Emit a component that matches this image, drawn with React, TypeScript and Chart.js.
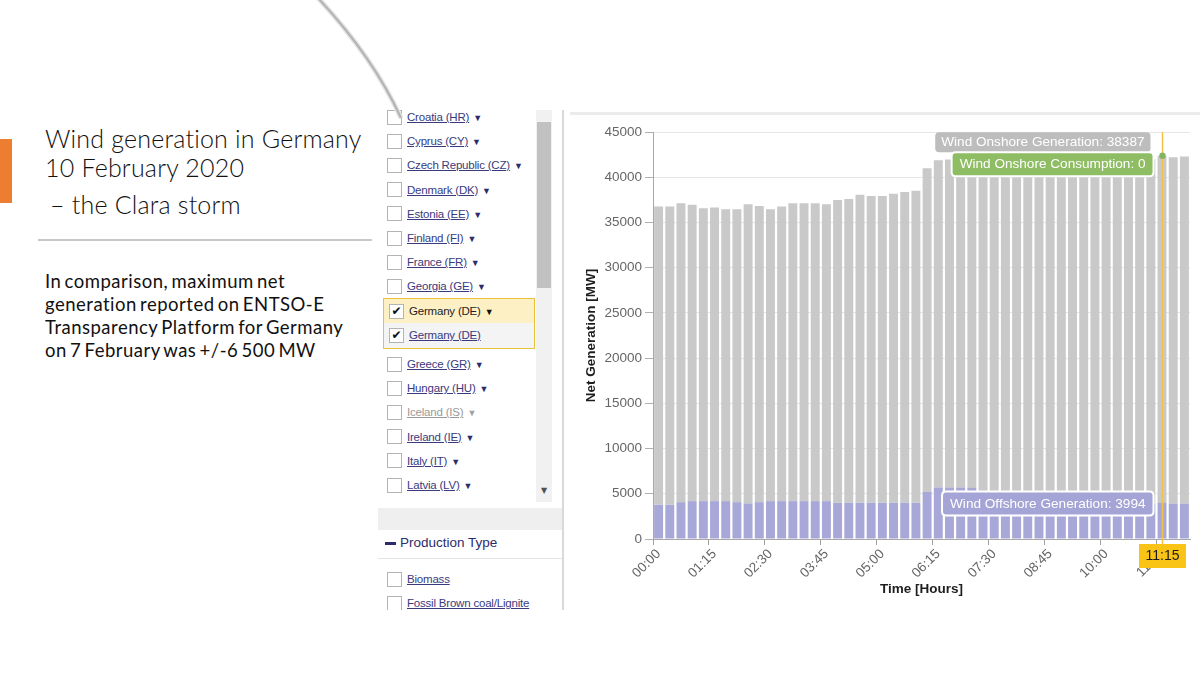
import React, { useEffect, useRef } from "react";
import { Chart, registerables } from "chart.js";

Chart.register(...registerables);

// ---------------- DATA ----------------
const timeLabels = [
  "00:00", "00:15", "00:30", "00:45", "01:00", "01:15", "01:30", "01:45",
  "02:00", "02:15", "02:30", "02:45", "03:00", "03:15", "03:30", "03:45",
  "04:00", "04:15", "04:30", "04:45", "05:00", "05:15", "05:30", "05:45",
  "06:00", "06:15", "06:30", "06:45", "07:00", "07:15", "07:30", "07:45",
  "08:00", "08:15", "08:30", "08:45", "09:00", "09:15", "09:30", "09:45",
  "10:00", "10:15", "10:30", "10:45", "11:00", "11:15", "11:30", "11:45",
];

const offshoreGeneration = [
  3780, 3780, 4070, 4190, 4190, 4190, 4190, 4070,
  3930, 4070, 4190, 4190, 4190, 4190, 4190, 4190,
  4000, 4000, 4000, 4000, 4000, 4000, 4000, 4000,
  5230, 5700, 5700, 5700, 5650, 3950, 3950, 3950,
  3950, 3950, 3950, 3950, 3950, 3950, 3950, 3950,
  3950, 3950, 3900, 3900, 3870, 3994, 3900, 3900,
];

const onshoreGeneration = [
  32970, 32970, 33050, 32780, 32380, 32450, 32270, 32390,
  33080, 32760, 32270, 32560, 32930, 32930, 32930, 32820,
  33480, 33600, 34070, 33920, 33920, 34180, 34360, 34510,
  35770, 36190, 36260, 36300, 36400, 38150, 38200, 38050,
  38150, 38250, 38200, 38100, 38150, 38250, 38300, 38200,
  38150, 38250, 38200, 38150, 38130, 38387, 38320, 38400,
];

const onshoreConsumption = [
  0, 0, 0, 0, 0, 0, 0, 0, 0, 0, 0, 0, 0, 0, 0, 0,
  0, 0, 0, 0, 0, 0, 0, 0, 0, 0, 0, 0, 0, 0, 0, 0,
  0, 0, 0, 0, 0, 0, 0, 0, 0, 0, 0, 0, 0, 0, 0, 0,
];

const yAxisMax = 45000;
const yAxisStep = 5000;
const highlightIndex = 45;

const countries = [
  "Croatia (HR)", "Cyprus (CY)", "Czech Republic (CZ)", "Denmark (DK)",
  "Estonia (EE)", "Finland (FI)", "France (FR)", "Georgia (GE)",
];
const countriesAfter = ["Greece (GR)", "Hungary (HU)", "Iceland (IS)", "Ireland (IE)", "Italy (IT)", "Latvia (LV)"];
const productionTypes = ["Biomass", "Fossil Brown coal/Lignite"];

const FONT = '"Liberation Sans", Arial, Helvetica, sans-serif';
const SLIDE_FONT = 'Lato, "Open Sans", sans-serif';

// ---------------- helpers ----------------
function roundRectPath(ctx: CanvasRenderingContext2D, x: number, y: number, w: number, h: number, r: number) {
  ctx.beginPath();
  ctx.moveTo(x + r, y);
  ctx.lineTo(x + w - r, y);
  ctx.quadraticCurveTo(x + w, y, x + w, y + r);
  ctx.lineTo(x + w, y + h - r);
  ctx.quadraticCurveTo(x + w, y + h, x + w - r, y + h);
  ctx.lineTo(x + r, y + h);
  ctx.quadraticCurveTo(x, y + h, x, y + h - r);
  ctx.lineTo(x, y + r);
  ctx.quadraticCurveTo(x, y, x + r, y);
  ctx.closePath();
}

function drawLabelBox(
  ctx: CanvasRenderingContext2D,
  text: string,
  right: number,
  cy: number,
  h: number,
  fill: string,
  border: string | null,
  padX: number
) {
  ctx.font = `13.6px ${FONT}`;
  const tw = ctx.measureText(text).width;
  const w = tw + padX * 2;
  const x = right - w;
  const y = cy - h / 2;
  roundRectPath(ctx, x, y, w, h, 4);
  ctx.fillStyle = fill;
  ctx.fill();
  if (border) {
    ctx.lineWidth = 2;
    ctx.strokeStyle = border;
    ctx.stroke();
  }
  ctx.fillStyle = "#ffffff";
  ctx.textAlign = "left";
  ctx.textBaseline = "middle";
  ctx.fillText(text, x + padX, cy + 0.5);
}

const crosshairPlugin = {
  id: "crosshairOverlay",
  afterDraw(chart: any) {
    const { ctx, chartArea, scales } = chart;
    const x = scales.x;
    const y = scales.y;
    const i = highlightIndex;
    const px = Math.round(x.getPixelForValue(i)) + 0.5;
    const total = offshoreGeneration[i] + onshoreGeneration[i] + onshoreConsumption[i];
    const topY = y.getPixelForValue(total);
    const offY = y.getPixelForValue(offshoreGeneration[i]);
    ctx.save();

    ctx.strokeStyle = "#f3c246";
    ctx.lineWidth = 1.5;
    ctx.beginPath();
    ctx.moveTo(px, chartArea.top);
    ctx.lineTo(px, chartArea.bottom + 6);
    ctx.stroke();

    ctx.beginPath();
    ctx.arc(px, topY, 3.2, 0, Math.PI * 2);
    ctx.fillStyle = "#86b45e";
    ctx.fill();

    drawLabelBox(ctx, `Wind Onshore Generation: ${onshoreGeneration[i]}`, px - 12, topY - 13.5, 20, "#bdbdbd", null, 6);
    drawLabelBox(ctx, `Wind Onshore Consumption: ${onshoreConsumption[i]}`, px - 9, topY + 8.5, 24, "#8fbd64", "#ffffff", 8);
    drawLabelBox(ctx, `Wind Offshore Generation: ${offshoreGeneration[i]}`, px - 9, offY + 0.5, 24, "#a4a4d6", "#ffffff", 8);

    const bw = 47;
    const bh = 24;
    const bx = px - bw / 2;
    const by = chartArea.bottom + 5;
    ctx.fillStyle = "#f9c416";
    ctx.fillRect(bx, by, bw, bh);
    ctx.fillStyle = "#1a1a1a";
    ctx.font = `14px ${FONT}`;
    ctx.textAlign = "center";
    ctx.textBaseline = "middle";
    ctx.fillText(timeLabels[i], px, by + bh / 2 + 0.5);
    ctx.restore();
  },
};

function WindChart() {
  const ref = useRef<HTMLCanvasElement | null>(null);
  useEffect(() => {
    if (!ref.current) return;
    const chart = new Chart(ref.current, {
      type: "bar",
      data: {
        labels: timeLabels,
        datasets: [
          {
            label: "Wind Offshore Generation",
            data: offshoreGeneration,
            backgroundColor: "#a8a8d8",
            barPercentage: 0.8,
            categoryPercentage: 1,
          },
          {
            label: "Wind Onshore Generation",
            data: onshoreGeneration,
            backgroundColor: "#c9c9c9",
            barPercentage: 0.8,
            categoryPercentage: 1,
          },
          {
            label: "Wind Onshore Consumption",
            data: onshoreConsumption,
            backgroundColor: "#8fbd64",
            barPercentage: 0.8,
            categoryPercentage: 1,
          },
        ],
      },
      options: {
        responsive: false,
        animation: false,
        layout: { padding: { top: 14, right: 10, left: 0, bottom: 0 } },
        plugins: {
          legend: { display: false },
          tooltip: { enabled: false },
        },
        scales: {
          x: {
            stacked: true,
            grid: {
              drawOnChartArea: false,
              tickLength: 6,
              tickColor: (c: any) => (c.index % 5 === 0 ? "#a0a0a0" : "rgba(0,0,0,0)"),
            },
            border: { color: "#a8a8a8", width: 1 },
            ticks: {
              autoSkip: false,
              maxRotation: 45,
              minRotation: 45,
              color: "#666666",
              padding: 1,
              font: { family: FONT, size: 13.5 },
              callback: (_v: any, idx: number) => (idx % 5 === 0 ? timeLabels[idx] : ""),
            },
            title: {
              display: true,
              text: "Time [Hours]",
              color: "#1e1e1e",
              font: { family: FONT, size: 13.5, weight: "bold" },
              padding: { top: 0, bottom: 11 },
            },
            afterFit: (s: any) => {
              s.height = 69;
            },
          },
          y: {
            stacked: true,
            min: 0,
            max: yAxisMax,
            ticks: {
              stepSize: yAxisStep,
              color: "#666666",
              padding: 3,
              font: { family: FONT, size: 13.5 },
              callback: (v: any) => String(v),
            },
            grid: { color: "#e6e6e6", tickColor: "#b0b0b0", tickLength: 8 },
            border: { color: "#a8a8a8", width: 1 },
            title: {
              display: true,
              text: "Net Generation [MW]",
              color: "#1e1e1e",
              font: { family: FONT, size: 13.5, weight: "bold" },
              padding: { top: 13, bottom: 0 },
            },
            afterFit: (s: any) => {
              s.width = 83;
            },
          },
        },
      } as any,
      plugins: [crosshairPlugin],
    });
    return () => chart.destroy();
  }, []);
  return (
    <canvas
      ref={ref}
      width={630}
      height={490}
      style={{ position: "absolute", left: 570, top: 118, width: 630, height: 490 }}
    />
  );
}

function Checkbox({ left, top, checked }: { left: number; top: number; checked?: boolean }) {
  return (
    <div
      style={{
        position: "absolute",
        left,
        top,
        width: 15,
        height: 15,
        border: "1px solid #b4b4b4",
        background: "#fff",
        boxSizing: "border-box",
        fontSize: 12,
        lineHeight: "13px",
        textAlign: "center",
        color: "#111",
        fontFamily: "DejaVu Sans, sans-serif",
      }}
    >
      {checked ? "✔" : ""}
    </div>
  );
}

function ListRow({
  top,
  text,
  arrow = true,
  grey = false,
  plain = false,
  checked = false,
  cbLeft = 387,
  textLeft = 407,
}: {
  top: number;
  text: string;
  arrow?: boolean;
  grey?: boolean;
  plain?: boolean;
  checked?: boolean;
  cbLeft?: number;
  textLeft?: number;
}) {
  const color = plain ? "#1e1e1e" : grey ? "#9a9a9a" : "#3a3a7e";
  return (
    <>
      <Checkbox left={cbLeft} top={top - 7.5} checked={checked} />
      <div
        style={{
          position: "absolute",
          left: textLeft,
          top: top - 8,
          height: 16,
          lineHeight: "16px",
          fontFamily: FONT,
          fontSize: 11.5,
          letterSpacing: -0.2,
          color,
          whiteSpace: "nowrap",
        }}
      >
        <span style={{ textDecoration: plain ? "none" : "underline" }}>{text}</span>
        {arrow ? (
          <span style={{ fontSize: 9, marginLeft: 4, color: plain ? "#111" : grey ? "#a0a0a0" : "#2b2b6e" }}>▼</span>
        ) : null}
      </div>
    </>
  );
}

function LeftPanel() {
  return (
    <div style={{ position: "absolute", left: 0, top: 0, width: 1200, height: 673 }}>
      <div style={{ position: "absolute", left: 378, top: 110, width: 184, height: 500, overflow: "hidden" }}>
        <div style={{ position: "absolute", left: -378, top: -110, width: 1200, height: 700 }}>
          {countries.map((c, k) => (
            <ListRow key={c} top={117 + k * 24.2} text={c} />
          ))}
          <div
            style={{
              position: "absolute",
              left: 383,
              top: 298,
              width: 152,
              height: 51,
              border: "1.5px solid #e9c23a",
              boxSizing: "border-box",
              background: "#f4f4f4",
            }}
          >
            <div style={{ position: "absolute", left: 0, top: 0, right: 0, height: 24, background: "#fdf0c4" }} />
          </div>
          <ListRow top={311} text="Germany (DE)" plain checked cbLeft={389} textLeft={409} />
          <ListRow top={335} text="Germany (DE)" arrow={false} checked cbLeft={389} textLeft={409} />
          {countriesAfter.map((c, k) => (
            <ListRow key={c} top={364 + k * 24.2} text={c} grey={c.startsWith("Iceland")} />
          ))}
          <div style={{ position: "absolute", left: 536, top: 110, width: 16, height: 392, background: "#f1f1f1" }} />
          <div style={{ position: "absolute", left: 537, top: 122, width: 14, height: 166, background: "#c1c1c1" }} />
          <div
            style={{
              position: "absolute",
              left: 536,
              top: 484,
              width: 16,
              height: 14,
              fontSize: 8,
              lineHeight: "14px",
              textAlign: "center",
              color: "#505050",
              fontFamily: "DejaVu Sans, sans-serif",
            }}
          >
            ▼
          </div>
          <div style={{ position: "absolute", left: 378, top: 508, width: 184, height: 22, background: "#efefef" }} />
          <div style={{ position: "absolute", left: 385, top: 542, width: 11, height: 2.5, background: "#2c2c6c" }} />
          <div
            style={{
              position: "absolute",
              left: 400,
              top: 534,
              lineHeight: "18px",
              fontFamily: FONT,
              fontSize: 13.5,
              color: "#2c2c6c",
              whiteSpace: "nowrap",
            }}
          >
            Production Type
          </div>
          <div style={{ position: "absolute", left: 378, top: 558, width: 184, height: 1, background: "#e4e4e4" }} />
          {productionTypes.map((p, k) => (
            <ListRow key={p} top={579 + k * 24.2} text={p} arrow={false} />
          ))}
        </div>
      </div>
      <div style={{ position: "absolute", left: 562, top: 110, width: 2, height: 500, background: "#d9d9d9" }} />
      <div style={{ position: "absolute", left: 570, top: 112, width: 630, height: 3, background: "#ebebeb" }} />
    </div>
  );
}

function SlideText() {
  const titleStyle: React.CSSProperties = {
    position: "absolute",
    fontFamily: SLIDE_FONT,
    fontWeight: 300,
    fontSize: 25,
    letterSpacing: 0.2,
    lineHeight: "28px",
    color: "#111",
    whiteSpace: "nowrap",
  };
  const bodyStyle: React.CSSProperties = {
    position: "absolute",
    left: 45,
    fontFamily: SLIDE_FONT,
    fontWeight: 400,
    fontSize: 18.5,
    letterSpacing: 0.5,
    lineHeight: "20px",
    color: "#111",
    whiteSpace: "nowrap",
    wordSpacing: -2,
  };
  return (
    <>
      <div style={{ position: "absolute", left: 0, top: 139, width: 12, height: 64, background: "#ed7d31" }} />
      <div style={{ ...titleStyle, left: 45, top: 124 }}>Wind generation in Germany</div>
      <div style={{ ...titleStyle, left: 45, top: 153 }}>10 February 2020</div>
      <div style={{ ...titleStyle, left: 50, top: 190 }}>– the Clara storm</div>
      <div style={{ position: "absolute", left: 38, top: 239, width: 334, height: 1.5, background: "#c9c9c9" }} />
      <div style={{ ...bodyStyle, top: 271 }}>In comparison, maximum net</div>
      <div style={{ ...bodyStyle, top: 294 }}>generation reported on ENTSO-E</div>
      <div style={{ ...bodyStyle, top: 317 }}>Transparency Platform for Germany</div>
      <div style={{ ...bodyStyle, top: 340 }}>on 7 February was +/-6 500 MW</div>
      <svg
        width={1200}
        height={673}
        style={{ position: "absolute", left: 0, top: 0, pointerEvents: "none" }}
      >
        <path d="M 318 -2 Q 373 57 401 118" stroke="#e4e4e4" strokeWidth={5} fill="none" />
        <path d="M 318 -2 Q 373 57 401 118" stroke="#b4b4b4" strokeWidth={2.2} fill="none" />
      </svg>
    </>
  );
}

export default function App() {
  return (
    <div
      style={{
        position: "absolute",
        left: 0,
        top: 0,
        width: 1200,
        height: 673,
        background: "#ffffff",
        overflow: "hidden",
      }}
    >
      <LeftPanel />
      <WindChart />
      <SlideText />
    </div>
  );
}
